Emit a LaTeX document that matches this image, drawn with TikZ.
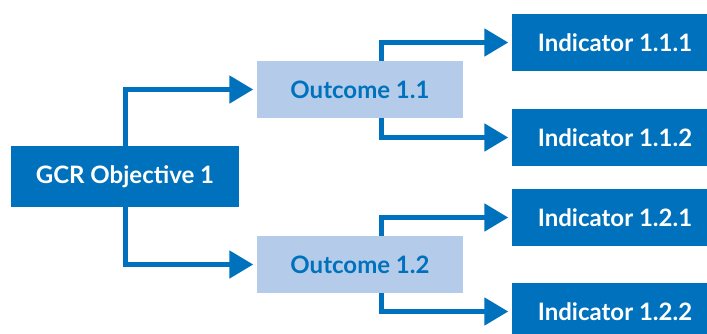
\documentclass[tikz,border=0pt]{standalone}
\usepackage{fontspec}
\setmainfont{Lato}
\usetikzlibrary{arrows.meta}
\definecolor{deepblue}{HTML}{0071BC}
\definecolor{paleblue}{HTML}{B4CBEA}
\begin{document}
\begin{tikzpicture}[x=1pt,y=-1pt,
  darkbox/.style={fill=deepblue,text=white,font=\bfseries\fontsize{24}{28}\selectfont,
    minimum height=57pt,inner sep=0pt},
  lightbox/.style={fill=paleblue,text=deepblue,font=\bfseries\fontsize{24}{28}\selectfont,
    minimum width=206pt,minimum height=57pt,inner sep=0pt},
  conn/.style={draw=deepblue,line width=5pt,
    -{Triangle[length=24pt,width=27pt]},shorten >=3.5pt}]
\useasboundingbox (0,0) rectangle (707,333);
\begin{scope}
\clip (0,0) rectangle (707,333);
\node[darkbox,minimum width=228pt,minimum height=61pt] (gcr) at (125,176.5) {GCR Objective 1};
\node[lightbox] (o11) at (360,89.5) {Outcome 1.1};
\node[lightbox] (o12) at (360,264.5) {Outcome 1.2};
\node[darkbox,minimum width=206pt] (i111) at (615,42.5) {Indicator 1.1.1};
\node[darkbox,minimum width=206pt] (i112) at (615,137.5) {Indicator 1.1.2};
\node[darkbox,minimum width=206pt] (i121) at (615,217.5) {Indicator 1.2.1};
\node[darkbox,minimum width=206pt] (i122) at (615,311.5) {Indicator 1.2.2};
\end{scope}
% objective to outcomes
\draw[conn] (gcr.north) |- (o11.west);
\draw[conn] (gcr.south) |- (o12.west);
% outcomes to indicators
\coordinate (o11t) at ([xshift=21pt]o11.north);
\coordinate (o11b) at ([xshift=21pt]o11.south);
\coordinate (o12t) at ([xshift=21pt]o12.north);
\coordinate (o12b) at ([xshift=21pt]o12.south);
\draw[conn] (o11t) |- (i111.west);
\draw[conn] (o11b) |- (i112.west);
\draw[conn] (o12t) |- (i121.west);
\draw[conn] (o12b) |- (i122.west);
\end{tikzpicture}
\end{document}
